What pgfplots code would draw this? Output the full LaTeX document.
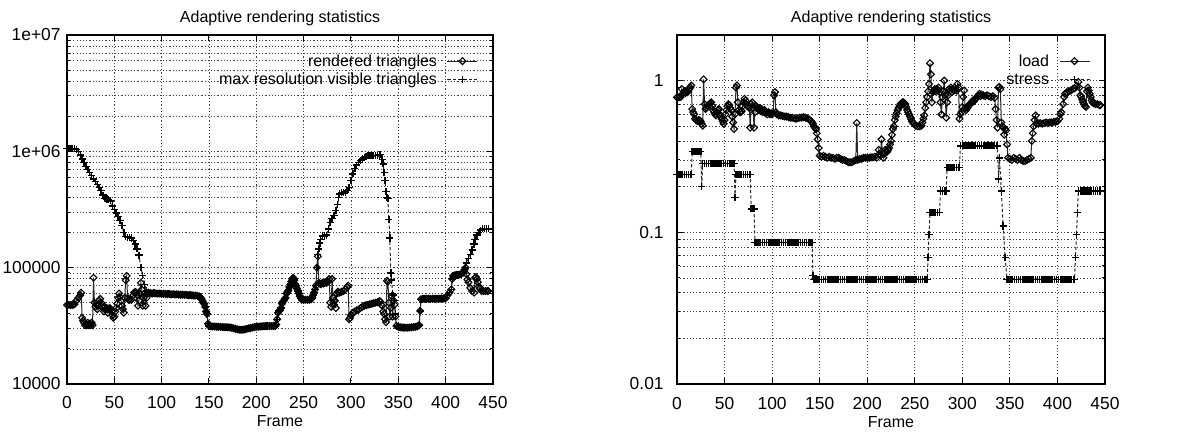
\documentclass[border=0pt]{standalone}
\usepackage{fontspec}
\setmainfont{Liberation Sans}
\usepackage{pgfplots}
\usepackage{pgfplotstable}
\pgfplotsset{compat=1.18}
\newcommand\lstrut{\rule[-2.9bp]{0pt}{9.5bp}}

% rendered triangles
\pgfplotstableread[row sep=\\]{
x y\\
0 47800\\ 2 47800\\ 4 47800\\ 6 47800\\ 8 48500\\ 10 52000\\ 12 55000\\ 14 58000\\ 15 61000\\ 16 37000\\
17 35000\\ 18 33600\\ 19 32000\\ 20 33000\\ 21 32000\\ 22 33600\\ 23 32000\\ 24 33000\\ 25 32000\\ 26 33600\\
27 32000\\ 28 82000\\ 29 50000\\ 30 46000\\ 31 48000\\ 32 44000\\ 33 47000\\ 34 52000\\ 35 54000\\ 36 50000\\
37 47000\\ 38 45000\\ 39 42000\\ 40 46000\\ 41 44000\\ 42 45000\\ 43 41000\\ 44 44000\\ 45 45000\\ 46 44000\\
47 42000\\ 48 39000\\ 49 37000\\ 50 38000\\ 51 42000\\ 52 45000\\ 53 49000\\ 54 55000\\ 55 60000\\ 56 56000\\
57 52000\\ 58 47000\\ 59 44000\\ 60 41000\\ 61 55000\\ 62 78000\\ 63 85000\\ 64 55000\\ 65 53000\\ 66 53000\\
68 53000\\ 70 58000\\ 71 61000\\ 72 62000\\ 73 61000\\ 74 58000\\ 75 47000\\ 76 52000\\ 77 60000\\ 78 74000\\
79 65000\\ 80 47000\\ 81 55000\\ 82 60000\\ 83 47000\\ 84 55000\\ 85 60000\\ 86 61000\\ 88 60500\\ 90 60000\\
92 60500\\ 94 60000\\ 96 59800\\ 98 60000\\ 100 59500\\ 102 59800\\ 104 59500\\ 106 59300\\ 108 59500\\ 110 59000\\
112 59200\\ 114 58800\\ 116 59000\\ 118 58700\\ 120 58500\\ 122 58700\\ 124 58300\\ 126 58500\\ 128 58000\\ 130 58200\\
132 57800\\ 134 57500\\ 136 57600\\ 138 57200\\ 140 56500\\ 141 55500\\ 142 54000\\ 143 52000\\ 144 50000\\ 145 49000\\
146 46000\\ 147 42000\\ 148 40000\\ 149 33000\\ 150 31500\\ 152 31300\\ 154 31200\\ 156 31200\\ 158 31000\\ 160 31100\\
162 31000\\ 164 30900\\ 166 30800\\ 168 30800\\ 170 30700\\ 172 30600\\ 174 30400\\ 176 30100\\ 178 29800\\ 180 29500\\
182 29300\\ 184 29200\\ 186 29300\\ 188 29500\\ 190 29800\\ 192 30100\\ 194 30300\\ 196 30600\\ 198 30800\\ 200 31000\\
202 31100\\ 204 31200\\ 206 31300\\ 208 31400\\ 210 31500\\ 212 31500\\ 214 31500\\ 216 31500\\ 218 31500\\ 220 31600\\
221 32500\\ 222 36000\\ 223 41000\\ 224 42500\\ 225 43000\\ 226 45000\\ 227 49000\\ 228 51000\\ 229 52000\\ 230 54000\\
231 55000\\ 232 60000\\ 233 62000\\ 234 64000\\ 235 68000\\ 236 72000\\ 237 76000\\ 238 80000\\ 239 82000\\ 240 78000\\
241 72000\\ 242 70000\\ 243 66000\\ 244 63000\\ 245 60000\\ 246 57000\\ 247 55000\\ 248 53000\\ 250 53000\\ 252 53000\\
254 53000\\ 256 53000\\ 258 53500\\ 259 55000\\ 260 58000\\ 261 61000\\ 262 65000\\ 263 70000\\ 264 100000\\ 265 125000\\
266 74000\\ 267 73000\\ 268 72000\\ 269 73000\\ 270 74000\\ 271 73000\\ 272 74000\\ 273 75000\\ 274 74000\\ 275 75000\\
276 76000\\ 277 80000\\ 278 50000\\ 279 46000\\ 280 80000\\ 281 55000\\ 282 48000\\ 283 52000\\ 284 45000\\ 285 60000\\
286 62000\\ 287 61000\\ 288 61000\\ 290 62000\\ 292 63000\\ 294 65000\\ 296 68000\\ 297 70000\\ 298 36000\\ 299 37000\\
300 39000\\ 302 41000\\ 304 42000\\ 306 43000\\ 308 43500\\ 310 45000\\ 312 46000\\ 314 47000\\ 316 47500\\ 318 48000\\
320 48500\\ 322 49000\\ 324 49500\\ 326 50000\\ 328 50500\\ 330 51500\\ 331 51000\\ 332 48000\\ 333 47000\\ 334 42000\\
335 40000\\ 336 36000\\ 337 34000\\ 338 77000\\ 339 76000\\ 340 50000\\ 341 38000\\ 342 45000\\ 343 57000\\ 344 38000\\
345 52000\\ 346 48000\\ 347 38000\\ 348 31600\\ 350 31000\\ 352 30800\\ 354 30600\\ 356 30500\\ 358 30500\\ 360 30500\\
362 30600\\ 364 30700\\ 366 30900\\ 368 31000\\ 370 31300\\ 372 32000\\ 373 42500\\ 374 53500\\ 376 54000\\ 378 54000\\
380 54000\\ 382 54000\\ 384 54000\\ 386 54000\\ 388 54000\\ 390 54000\\ 392 54000\\ 394 54200\\ 396 54300\\ 398 54400\\
400 54500\\ 402 58000\\ 404 61000\\ 406 65000\\ 407 80000\\ 408 85000\\ 410 86000\\ 412 86500\\ 414 87000\\ 416 88000\\
418 90000\\ 420 96000\\ 421 100000\\ 422 88000\\ 423 79000\\ 424 75000\\ 426 67000\\ 428 63000\\ 430 61000\\ 431 82000\\
432 83000\\ 433 80000\\ 434 75000\\ 435 69000\\ 436 66000\\ 438 63000\\ 440 63000\\ 442 63000\\ 444 63000\\ 445 63000\\
}\rendered

% max resolution visible triangles, where it differs from rendered
\pgfplotstableread[row sep=\\]{
x y\\
0 1060000\\ 2 1060000\\ 4 1060000\\ 6 1060000\\ 8 1050000\\ 10 1040000\\ 12 1000000\\ 14 930000\\ 16 860000\\ 18 800000\\
20 740000\\ 22 700000\\ 24 660000\\ 26 620000\\ 28 580000\\ 30 550000\\ 32 520000\\ 34 490000\\ 36 460000\\ 38 420000\\
40 395000\\ 42 390000\\ 44 385000\\ 46 375000\\ 48 340000\\ 50 315000\\ 52 295000\\ 54 275000\\ 56 255000\\ 58 230000\\
60 200000\\ 62 185000\\ 64 183000\\ 66 182000\\ 68 180000\\ 70 172000\\ 72 160000\\ 74 145000\\ 76 128000\\ 78 100000\\
80 86000\\ 82 72000\\ 84 63000\\ 86 61000\\
}\visA
\pgfplotstableread[row sep=\\]{
x y\\
262 65000\\ 263 70000\\ 264 100000\\ 265 130000\\ 266 145000\\ 267 163000\\ 268 175000\\ 270 187000\\ 272 187000\\ 274 190000\\
276 215000\\ 278 245000\\ 280 265000\\ 282 280000\\ 284 310000\\ 286 350000\\ 287 400000\\ 288 430000\\ 290 440000\\ 292 442000\\
294 445000\\ 296 460000\\ 298 490000\\ 300 560000\\ 302 640000\\ 304 710000\\ 306 760000\\ 308 800000\\ 310 830000\\ 312 860000\\
314 880000\\ 316 900000\\ 318 915000\\ 320 925000\\ 322 925000\\ 324 925000\\ 326 925000\\ 328 925000\\ 330 930000\\ 331 940000\\
333 850000\\ 334 780000\\ 335 660000\\ 336 560000\\ 337 450000\\ 338 400000\\ 339 395000\\ 340 260000\\ 341 180000\\ 342 90000\\
343 78000\\ 344 60000\\ 345 58000\\ 346 52000\\ 347 40000\\ 348 31600\\
}\visB
\pgfplotstableread[row sep=\\]{
x y\\
402 58000\\ 404 61000\\ 406 65000\\ 407 80000\\ 408 85000\\ 410 86000\\ 412 86500\\ 414 87000\\ 416 88000\\ 418 90000\\
420 96000\\ 421 100000\\ 422 110000\\ 424 120000\\ 426 130000\\ 428 142000\\ 430 160000\\ 431 175000\\ 433 190000\\ 435 200000\\
437 210000\\ 439 216000\\ 441 216000\\ 443 216000\\ 445 216000\\
}\visC

% load
\pgfplotstableread[row sep=\\]{
x y\\
0 0.776\\ 2 0.776\\ 4 0.78\\ 5 0.88\\ 6 0.82\\ 7 0.84\\ 8 0.85\\ 9 0.83\\ 10 0.86\\ 11 0.84\\
12 0.87\\ 13 0.88\\ 14 0.90\\ 15 0.93\\ 16 0.65\\ 17 0.62\\ 18 0.60\\ 19 0.56\\ 20 0.55\\ 21 0.545\\
22 0.54\\ 23 0.55\\ 24 0.545\\ 25 0.54\\ 26 0.52\\ 27 0.505\\ 28 1.02\\ 29 0.70\\ 30 0.65\\ 31 0.66\\
32 0.68\\ 33 0.69\\ 34 0.70\\ 35 0.71\\ 36 0.72\\ 37 0.68\\ 38 0.64\\ 39 0.62\\ 40 0.60\\ 41 0.59\\
42 0.62\\ 43 0.64\\ 44 0.65\\ 45 0.60\\ 46 0.58\\ 47 0.56\\ 48 0.54\\ 49 0.52\\ 50 0.55\\ 51 0.60\\
52 0.64\\ 53 0.68\\ 54 0.70\\ 55 0.69\\ 56 0.66\\ 57 0.64\\ 58 0.58\\ 59 0.53\\ 60 0.48\\ 61 0.60\\
62 0.90\\ 63 0.93\\ 64 0.72\\ 65 0.64\\ 66 0.62\\ 67 0.62\\ 68 0.63\\ 69 0.68\\ 70 0.72\\ 71 0.76\\
72 0.74\\ 73 0.70\\ 74 0.68\\ 75 0.68\\ 76 0.66\\ 77 0.49\\ 78 0.70\\ 79 0.72\\ 80 0.66\\ 81 0.49\\
82 0.62\\ 83 0.68\\ 84 0.67\\ 85 0.66\\ 86 0.64\\ 87 0.66\\ 88 0.63\\ 89 0.65\\ 90 0.62\\ 91 0.63\\
92 0.64\\ 93 0.61\\ 94 0.62\\ 95 0.60\\ 96 0.62\\ 97 0.61\\ 98 0.60\\ 99 0.61\\ 100 0.60\\ 101 0.61\\
102 0.80\\ 103 0.84\\ 104 0.62\\ 105 0.60\\ 107 0.59\\ 109 0.59\\ 111 0.585\\ 113 0.58\\ 115 0.58\\ 117 0.575\\
119 0.57\\ 121 0.57\\ 123 0.565\\ 125 0.56\\ 127 0.565\\ 129 0.57\\ 131 0.57\\ 133 0.575\\ 135 0.57\\ 137 0.565\\
139 0.555\\ 141 0.54\\ 142 0.53\\ 143 0.52\\ 144 0.50\\ 145 0.49\\ 146 0.48\\ 147 0.45\\ 148 0.41\\ 149 0.36\\
150 0.32\\ 152 0.315\\ 154 0.32\\ 156 0.315\\ 158 0.31\\ 160 0.315\\ 162 0.31\\ 164 0.31\\ 166 0.305\\ 168 0.31\\
170 0.31\\ 172 0.305\\ 174 0.30\\ 176 0.30\\ 178 0.295\\ 180 0.29\\ 182 0.29\\ 184 0.29\\ 186 0.295\\ 188 0.30\\
189 0.526\\ 190 0.30\\ 192 0.305\\ 194 0.305\\ 196 0.31\\ 198 0.31\\ 200 0.31\\ 202 0.31\\ 204 0.312\\ 206 0.312\\
208 0.315\\ 210 0.31\\ 212 0.35\\ 213 0.33\\ 214 0.32\\ 215 0.41\\ 216 0.33\\ 217 0.31\\ 218 0.33\\ 219 0.35\\
220 0.345\\ 221 0.34\\ 222 0.35\\ 223 0.36\\ 224 0.38\\ 225 0.40\\ 226 0.44\\ 227 0.48\\ 228 0.50\\ 229 0.55\\
230 0.58\\ 231 0.61\\ 232 0.64\\ 233 0.66\\ 234 0.68\\ 235 0.70\\ 236 0.71\\ 237 0.72\\ 238 0.72\\ 239 0.71\\
240 0.70\\ 241 0.67\\ 242 0.64\\ 243 0.62\\ 244 0.60\\ 245 0.58\\ 246 0.56\\ 247 0.54\\ 248 0.53\\ 249 0.52\\
251 0.505\\ 253 0.50\\ 255 0.50\\ 257 0.505\\ 258 0.53\\ 259 0.56\\ 260 0.59\\ 261 0.66\\ 262 0.72\\ 263 0.78\\
264 0.85\\ 265 0.95\\ 266 1.30\\ 267 1.10\\ 268 0.72\\ 269 0.84\\ 270 0.86\\ 271 0.88\\ 272 0.85\\ 273 0.88\\
274 0.86\\ 275 0.90\\ 276 0.84\\ 277 0.72\\ 278 0.60\\ 279 0.78\\ 280 0.85\\ 281 1.00\\ 282 0.80\\ 283 0.57\\
284 0.72\\ 285 0.80\\ 286 0.88\\ 287 0.86\\ 288 0.90\\ 289 0.84\\ 290 0.88\\ 291 0.86\\ 292 0.90\\ 293 0.87\\
294 0.86\\ 295 0.95\\ 296 0.90\\ 297 0.56\\ 298 0.60\\ 299 0.62\\ 300 0.67\\ 301 0.78\\ 302 0.86\\ 303 0.66\\
304 0.64\\ 305 0.66\\ 306 0.67\\ 307 0.69\\ 308 0.70\\ 309 0.71\\ 310 0.72\\ 311 0.74\\ 312 0.73\\ 313 0.75\\
314 0.76\\ 315 0.77\\ 316 0.79\\ 317 0.80\\ 318 0.82\\ 319 0.79\\ 320 0.81\\ 322 0.80\\ 324 0.79\\ 326 0.80\\
328 0.79\\ 330 0.78\\ 332 0.79\\ 334 0.77\\ 335 0.65\\ 336 0.55\\ 337 0.49\\ 338 0.90\\ 339 0.91\\ 340 0.88\\
341 0.53\\ 342 0.50\\ 343 0.49\\ 344 0.44\\ 345 0.48\\ 346 0.47\\ 347 0.38\\ 348 0.31\\ 350 0.305\\ 352 0.30\\
354 0.31\\ 356 0.305\\ 358 0.30\\ 360 0.31\\ 362 0.30\\ 364 0.295\\ 366 0.295\\ 368 0.30\\ 370 0.305\\ 372 0.31\\
373 0.40\\ 374 0.45\\ 375 0.50\\ 376 0.55\\ 377 0.59\\ 378 0.52\\ 380 0.52\\ 382 0.525\\ 384 0.52\\ 386 0.525\\
388 0.53\\ 390 0.525\\ 392 0.53\\ 394 0.53\\ 396 0.535\\ 398 0.535\\ 400 0.54\\ 402 0.56\\ 403 0.60\\ 404 0.62\\
406 0.70\\ 407 0.78\\ 408 0.82\\ 410 0.84\\ 412 0.85\\ 414 0.86\\ 416 0.88\\ 418 0.89\\ 420 0.92\\ 422 0.98\\
423 0.90\\ 424 0.80\\ 425 0.78\\ 426 0.75\\ 427 0.72\\ 428 0.70\\ 429 0.68\\ 430 0.67\\ 431 0.85\\ 432 0.90\\
433 0.86\\ 434 0.82\\ 435 0.78\\ 436 0.74\\ 437 0.72\\ 438 0.71\\ 440 0.70\\ 442 0.70\\ 444 0.69\\ 445 0.69\\
}\load

% stress
\pgfplotstableread[row sep=\\]{
x y\\
0 0.24\\ 2 0.24\\ 4 0.24\\ 6 0.24\\ 8 0.24\\ 10 0.24\\ 12 0.24\\ 14 0.24\\ 15 0.24\\
16 0.34\\ 17 0.34\\ 19 0.34\\ 21 0.34\\ 23 0.34\\ 25 0.34\\ 26 0.20\\
27 0.284\\ 29 0.284\\ 31 0.284\\ 33 0.284\\ 35 0.284\\ 37 0.284\\ 39 0.284\\ 41 0.284\\ 43 0.284\\ 45 0.284\\
47 0.284\\ 49 0.284\\ 51 0.284\\ 53 0.284\\ 55 0.284\\ 57 0.284\\ 59 0.284\\ 60 0.284\\ 61 0.17\\
62 0.24\\ 64 0.24\\ 66 0.24\\ 68 0.24\\ 70 0.24\\ 72 0.24\\ 74 0.24\\ 76 0.24\\ 77 0.24\\
78 0.143\\ 79 0.143\\ 80 0.143\\ 81 0.143\\
82 0.086\\ 84 0.086\\ 86 0.086\\ 88 0.086\\ 90 0.086\\ 92 0.086\\ 94 0.086\\ 96 0.086\\ 98 0.086\\ 100 0.086\\
102 0.086\\ 104 0.086\\ 106 0.086\\ 108 0.086\\ 110 0.086\\ 112 0.086\\ 114 0.086\\ 116 0.086\\ 118 0.086\\ 120 0.086\\
122 0.086\\ 124 0.086\\ 126 0.086\\ 128 0.086\\ 130 0.086\\ 132 0.086\\ 134 0.086\\ 136 0.086\\ 138 0.086\\ 140 0.086\\
142 0.086\\ 143 0.052\\
144 0.049\\ 146 0.049\\ 148 0.049\\ 150 0.049\\ 152 0.049\\ 154 0.049\\ 156 0.049\\ 158 0.049\\ 160 0.049\\ 162 0.049\\
164 0.049\\ 166 0.049\\ 168 0.049\\ 170 0.049\\ 172 0.049\\ 174 0.049\\ 176 0.049\\ 178 0.049\\ 180 0.049\\ 182 0.049\\
184 0.049\\ 186 0.049\\ 188 0.049\\ 190 0.049\\ 192 0.049\\ 194 0.049\\ 196 0.049\\ 198 0.049\\ 200 0.049\\ 202 0.049\\
204 0.049\\ 206 0.049\\ 208 0.049\\ 210 0.049\\ 212 0.049\\ 214 0.049\\ 216 0.049\\ 218 0.049\\ 220 0.049\\ 222 0.049\\
224 0.049\\ 226 0.049\\ 228 0.049\\ 230 0.049\\ 232 0.049\\ 234 0.049\\ 236 0.049\\ 238 0.049\\ 240 0.049\\ 242 0.049\\
244 0.049\\ 246 0.049\\ 248 0.049\\ 250 0.049\\ 252 0.049\\ 254 0.049\\ 256 0.049\\ 258 0.049\\ 260 0.049\\ 262 0.049\\
263 0.049\\ 264 0.068\\ 265 0.097\\
266 0.135\\ 268 0.135\\ 270 0.135\\ 272 0.135\\ 274 0.135\\ 276 0.135\\
277 0.187\\ 279 0.187\\ 281 0.187\\ 283 0.187\\
284 0.267\\ 286 0.267\\ 288 0.267\\ 290 0.267\\ 292 0.267\\ 294 0.267\\ 296 0.267\\ 297 0.267\\
298 0.372\\ 300 0.372\\ 302 0.372\\ 304 0.372\\ 306 0.372\\ 308 0.372\\ 310 0.372\\ 312 0.372\\ 314 0.372\\ 316 0.372\\
318 0.372\\ 320 0.372\\ 322 0.372\\ 324 0.372\\ 326 0.372\\ 328 0.372\\ 330 0.372\\ 332 0.372\\ 334 0.372\\ 336 0.372\\
337 0.372\\ 338 0.224\\ 339 0.31\\ 341 0.187\\ 343 0.11\\ 345 0.068\\
347 0.049\\ 349 0.049\\ 351 0.049\\ 353 0.049\\ 355 0.049\\ 357 0.049\\ 359 0.049\\ 361 0.049\\ 363 0.049\\ 365 0.049\\
367 0.049\\ 369 0.049\\ 371 0.049\\ 373 0.049\\ 375 0.049\\ 377 0.049\\ 379 0.049\\ 381 0.049\\ 383 0.049\\ 385 0.049\\
387 0.049\\ 389 0.049\\ 391 0.049\\ 393 0.049\\ 395 0.049\\ 397 0.049\\ 399 0.049\\ 401 0.049\\ 403 0.049\\ 405 0.049\\
407 0.049\\ 409 0.049\\ 411 0.049\\ 413 0.049\\ 415 0.049\\ 417 0.049\\ 418 0.049\\
419 0.068\\ 420 0.097\\ 421 0.135\\
422 0.187\\ 424 0.187\\ 426 0.187\\ 428 0.187\\ 430 0.187\\ 432 0.187\\ 434 0.187\\ 436 0.187\\ 438 0.187\\ 440 0.187\\
442 0.187\\ 444 0.187\\ 445 0.187\\
}\stress

\pgfplotsset{
  gpaxis/.style={
    scale only axis,
    height=174.5bp,
    xmin=0, xmax=450,
    xtick={0,50,...,450},
    xticklabels={0,50,100,150,200,250,300,350,400,450},
    grid=both,
    major grid style={draw=black!75, line width=0.45bp, dash pattern=on 0.55bp off 1.05bp},
    minor grid style={draw=black!75, line width=0.45bp, dash pattern=on 0.55bp off 1.05bp},
    tick align=inside,
    major tick length=3bp, minor tick length=1.6bp,
    every tick/.style={black, line width=0.5bp},
    axis line style={black, line width=0.6bp},
    tick label style={font=\fontsize{8.7bp}{10.4bp}\selectfont},
    xticklabel style={anchor=base, yshift=-12.5bp, inner sep=0pt},
    title={Adaptive rendering statistics},
    every axis title/.style={at={(axis description cs:0.5,1)}, anchor=base, yshift=6.25bp, inner sep=0pt},
    xlabel={Frame},
    every axis x label/.style={at={(axis description cs:0.5,0)}, anchor=base, yshift=-21.5bp, inner sep=0pt},
    legend plot pos=right,
    legend cell align=right,
    legend style={at={(axis description cs:1,1)}, anchor=north east, xshift=-7.5bp, yshift=-9bp,
      draw=none, fill=none, inner sep=0pt, outer sep=0pt, row sep=1bp, column sep=5bp,
      nodes={inner sep=0pt}},
    legend image code/.code={\draw[mark repeat=2,mark phase=2] plot coordinates {(0bp,0bp) (7.5bp,0bp) (15bp,0bp)};},
  },
  gpdia/.style={black!85, line width=0.5bp, mark=square, mark size=1.2bp,
    mark options={rotate=45, solid, black, line width=0.55bp, fill=none}},
  gppls/.style={black!85, line width=0.5bp, dash pattern=on 1.6bp off 1.1bp, mark=+, mark size=1.8bp,
    mark options={solid, black, line width=0.75bp}},
}

\begin{document}
\begin{tikzpicture}[font=\fontsize{8bp}{9.6bp}\selectfont]
\useasboundingbox (0,0) rectangle (598bp,216bp);
\begin{axis}[gpaxis, anchor=south west, at={(33.5bp,24bp)}, width=213bp,
  ymode=log,
  ymin=1e4, ymax=1e7, ytick={1e4,1e5,1e6,1e7},
  yticklabels={10000,100000,1e+06,1e+07},
  yticklabel style={anchor=east, inner sep=0pt, xshift=-3bp}]
  \addplot[gpdia] table {\rendered};
  \addlegendentry{rendered triangles\lstrut}
  \addplot[gppls] table {\visA};
  \addlegendentry{max resolution visible triangles\lstrut}
  \addplot[gppls, forget plot, restrict x to domain=86:262] table {\rendered};
  \addplot[gppls, forget plot] table {\visB};
  \addplot[gppls, forget plot, restrict x to domain=348:402] table {\rendered};
  \addplot[gppls, forget plot] table {\visC};
\end{axis}
\begin{axis}[gpaxis, anchor=south west, at={(338.5bp,24bp)}, width=214bp,
  ymode=log,
  ymin=0.01, ymax=2, ytick={0.01,0.1,1},
  yticklabels={0.01,0.1,1},
  yticklabel style={anchor=east, inner sep=0pt, xshift=-6.5bp}]
  \addplot[gpdia] table {\load};
  \addlegendentry{load\lstrut}
  \addplot[gppls] table {\stress};
  \addlegendentry{stress\lstrut}
\end{axis}
\end{tikzpicture}
\end{document}
